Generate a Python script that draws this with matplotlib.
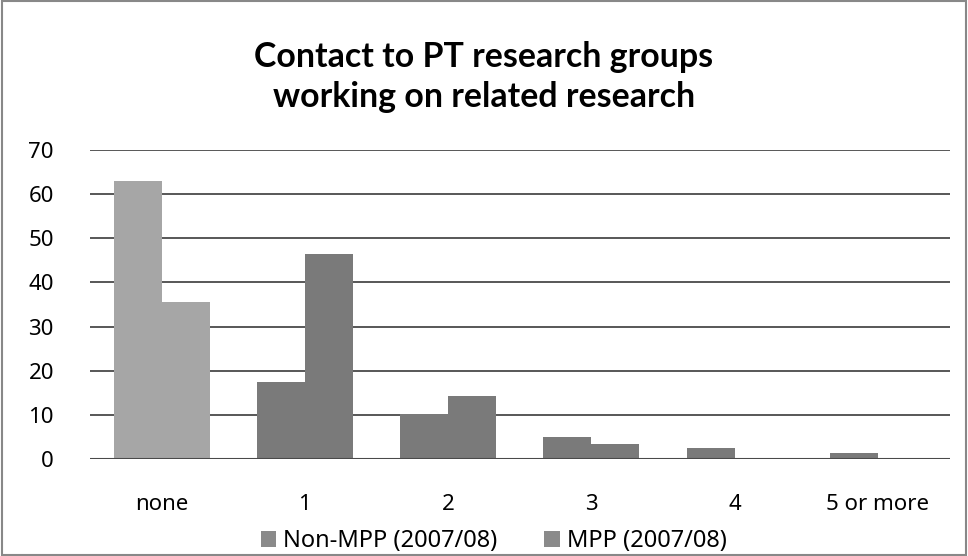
import matplotlib
matplotlib.use("Agg")
import matplotlib.pyplot as plt
import numpy as np
from matplotlib.patches import Patch, Rectangle

categories = ["none", "1", "2", "3", "4", "5 or more"]
non_mpp = [63, 17.5, 10.1, 5.0, 2.6, 1.4]
mpp = [35.5, 46.5, 14.3, 3.5, 0, 0]
series_names = ["Non-MPP (2007/08)", "MPP (2007/08)"]
title = "Contact to PT research groups\nworking on related research"

plt.rcParams['font.family'] = ['Noto Sans', 'DejaVu Sans']

fig = plt.figure(figsize=(9.68, 5.56), dpi=100)
ax = fig.add_axes([0.093, 0.1745, 0.888, 0.5555])

x = np.arange(len(categories))
w = 0.335
bar_colors = ["#a6a6a6"] + ["#7a7a7a"] * (len(categories) - 1)
ax.bar(x - w / 2, non_mpp, width=w, color=bar_colors, zorder=3)
ax.bar(x + w / 2, mpp, width=w, color=bar_colors, zorder=3)

ax.set_xlim(-0.5, len(categories) - 0.5)
ax.set_ylim(0, 70)
ax.set_yticks(range(0, 71, 10))
ax.set_xticks(x)
ax.set_xticklabels(categories)
ax.grid(axis='y', color='#4a4a4a', linewidth=1.3, zorder=0)
for s in ['top', 'right', 'left', 'bottom']:
    ax.spines[s].set_visible(False)
ax.axhline(0, color='#4a4a4a', linewidth=1.5, zorder=4)
ax.tick_params(axis='both', length=0, labelsize=16, colors='#000000')
ax.tick_params(axis='y', pad=26)
ax.tick_params(axis='x', pad=25)

fig.text(0.5, 0.862, title, ha='center', va='center', fontsize=24.4,
         fontweight='bold', linespacing=1.32, color='#000000',
         family=['Lato', 'DejaVu Sans'])

handles = [Patch(facecolor='#8a8a8a', edgecolor='none'),
           Patch(facecolor='#8a8a8a', edgecolor='none')]
fig.legend(handles, series_names, loc='center', bbox_to_anchor=(0.510, 0.027),
           ncol=2, frameon=False, fontsize=17, handlelength=0.65, handleheight=0.65,
           handletextpad=0.3, columnspacing=2.0, borderpad=0.0,
           labelcolor='#000000')

fig.patches.append(Rectangle((0.002, 0.002), 0.996, 0.996, transform=fig.transFigure,
                             fill=False, edgecolor='#888888', linewidth=1.5))

fig.savefig("out.png", dpi=100)
